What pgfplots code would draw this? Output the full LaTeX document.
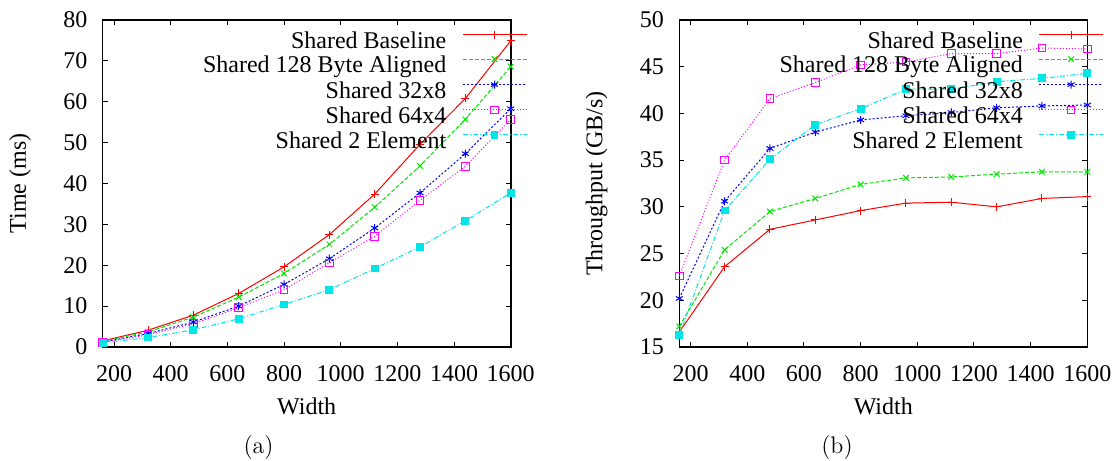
\documentclass[border=0pt]{standalone}
\usepackage{pgfplots}
\pgfplotsset{compat=1.18}
\usepackage{fontspec}
\newfontfamily\timesfont{Liberation Serif}
\definecolor{gpred}{RGB}{255,0,0}
\definecolor{gpgreen}{RGB}{0,230,0}
\definecolor{gpblue}{RGB}{0,0,255}
\definecolor{gpmag}{RGB}{255,0,255}
\definecolor{gpcyan}{RGB}{0,230,230}
\pgfplotsset{
  gp/.style={
    scale only axis, width=204pt, height=163.5pt,
    xmin=160, xmax=1600,
    xtick={200,400,...,1600},
    tick align=inside, tick pos=both,
    major tick length=2.5pt,
    every tick/.style={black, line width=0.5pt},
    axis line style={line width=0.8pt},
    tick label style={font=\timesfont\fontsize{12}{14}\selectfont},
    /pgf/number format/assume math mode=true,
    /pgf/number format/1000 sep={},
    xticklabel style={inner sep=0pt, anchor=north, yshift=-9pt},
    yticklabel style={inner sep=0pt, anchor=east, xshift=-7.5pt},
    label style={font=\timesfont\fontsize{12}{14}\selectfont},
    xlabel style={at={(axis description cs:0.5,-0.1823)}, anchor=center},
    ylabel style={at={(axis description cs:-0.2025,0.5)}, anchor=center},
    clip=false,
    legend cell align=right, legend plot pos=right,
    legend style={draw=none, fill=none, inner sep=0pt, outer sep=0pt,
      at={(axis description cs:1.04,0.967)}, anchor=north east,
      column sep=7.85pt, row sep=1.5pt,
      font=\timesfont\fontsize{12}{14}\selectfont,
      nodes={inner sep=0pt, text height=8pt, text depth=2.5pt}},
    legend image code/.code={\draw[mark repeat=2,mark phase=2] plot coordinates {(0pt,4pt)(16pt,4pt)(32pt,4pt)};},
  },
  sA/.style={gpred, line width=0.5pt, solid, mark=+, mark size=2pt, mark options={solid}},
  sB/.style={gpgreen, line width=0.5pt, dash pattern=on 2pt off 1pt, mark=x, mark size=2pt, mark options={solid}},
  sC/.style={gpblue, line width=0.5pt, dash pattern=on 1pt off 1pt, mark=asterisk, mark size=2pt, mark options={solid}},
  sD/.style={gpmag, line width=0.5pt, dash pattern=on 0.5pt off 1pt, mark=square, mark size=1.9pt, mark options={solid}},
  sE/.style={gpcyan, line width=0.5pt, dash pattern=on 2.5pt off 1pt on 0.5pt off 1pt, mark=square*, mark size=1.7pt, mark options={solid, fill=gpcyan}},
}
\begin{document}
\begin{tikzpicture}[x=1pt,y=1pt]
\useasboundingbox (0,0) rectangle (558,230.5);
\begin{axis}[gp, at={(51.35pt,57pt)}, anchor=south west,
  ymin=0, ymax=80, ytick={0,10,...,80},
  xlabel={Width}, ylabel={Time (ms)}]
\addplot[sA] coordinates {(160,1.5)(320,4.1)(480,7.8)(640,13.1)(800,19.6)(960,27.5)(1120,37.4)(1280,49.6)(1440,60.8)(1600,74.9)};
\addlegendentry{Shared Baseline}
\addplot[sB] coordinates {(160,1.4)(320,3.7)(480,7.3)(640,12.2)(800,18.0)(960,25.1)(1120,34.2)(1280,44.3)(1440,55.7)(1600,68.6)};
\addlegendentry{Shared 128 Byte Aligned}
\addplot[sC] coordinates {(160,1.2)(320,3.3)(480,6.1)(640,10.0)(800,15.3)(960,21.6)(1120,29.1)(1280,37.7)(1440,47.3)(1600,58.3)};
\addlegendentry{Shared 32x8}
\addplot[sD] coordinates {(160,1.1)(320,3.0)(480,5.7)(640,9.6)(800,14.0)(960,20.6)(1120,27.1)(1280,35.9)(1440,44.2)(1600,55.7)};
\addlegendentry{Shared 64x4}
\addplot[sE] coordinates {(160,1.0)(320,2.3)(480,4.2)(640,6.9)(800,10.4)(960,14.0)(1120,19.2)(1280,24.5)(1440,30.9)(1600,37.7)};
\addlegendentry{Shared 2 Element}
\end{axis}
\begin{axis}[gp, at={(339.65pt,57pt)}, anchor=south west,
  ymin=15, ymax=50, ytick={15,20,...,50},
  xlabel={Width}, ylabel={Throughput (GB/s)}]
\addplot[sA] coordinates {(160,16.6)(320,23.6)(480,27.6)(640,28.6)(800,29.6)(960,30.4)(1120,30.5)(1280,30.0)(1440,30.9)(1600,31.1)};
\addlegendentry{Shared Baseline}
\addplot[sB] coordinates {(160,17.2)(320,25.4)(480,29.5)(640,30.9)(800,32.4)(960,33.1)(1120,33.2)(1280,33.5)(1440,33.75)(1600,33.75)};
\addlegendentry{Shared 128 Byte Aligned}
\addplot[sC] coordinates {(160,20.2)(320,30.6)(480,36.25)(640,38.0)(800,39.3)(960,39.75)(1120,40.1)(1280,40.6)(1440,40.8)(1600,40.9)};
\addlegendentry{Shared 32x8}
\addplot[sD] coordinates {(160,22.6)(320,35.0)(480,41.6)(640,43.3)(800,45.2)(960,45.5)(1120,46.4)(1280,46.4)(1440,47.0)(1600,46.9)};
\addlegendentry{Shared 64x4}
\addplot[sE] coordinates {(160,16.3)(320,29.6)(480,35.1)(640,38.8)(800,40.5)(960,42.6)(1120,42.6)(1280,43.4)(1440,43.75)(1600,44.3)};
\addlegendentry{Shared 2 Element}
\end{axis}
\node[font=\fontsize{12}{14}\selectfont] at (129.3,6.5) {(a)};
\node[font=\fontsize{12}{14}\selectfont] at (418.5,6.5) {(b)};
\end{tikzpicture}
\end{document}
